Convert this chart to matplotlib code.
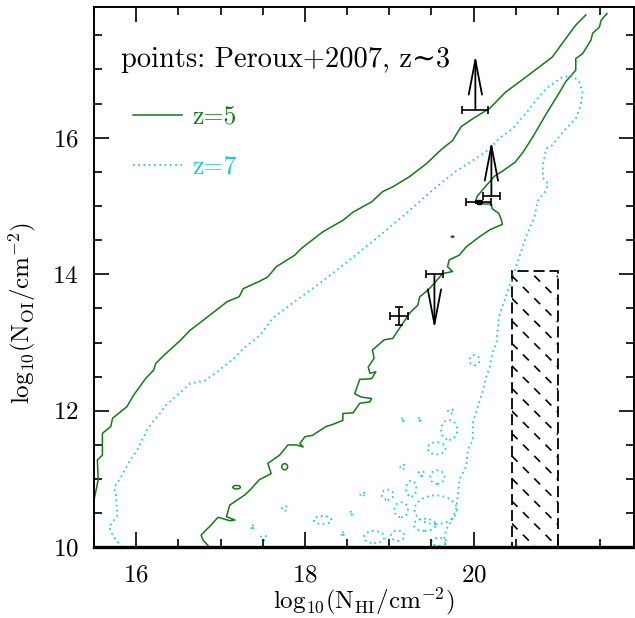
import matplotlib
matplotlib.use("Agg")
import matplotlib.pyplot as plt
from matplotlib.patches import Rectangle, Ellipse
import numpy as np

plt.rcParams['font.family'] = ['cmr10', 'DejaVu Serif']
plt.rcParams['mathtext.fontset'] = 'cm'
plt.rcParams['axes.formatter.use_mathtext'] = True
plt.rcParams['axes.unicode_minus'] = False
plt.rcParams['lines.scale_dashes'] = False

GREEN = '#137a13'
CYAN = '#14ccd8'

# z=5 contour, outer (upper-left) edge
z5_upper_x = [15.50, 15.55, 15.54, 15.60, 15.60, 15.70, 15.72, 15.89, 15.97, 16.03, 16.11,
              16.21, 16.23, 16.31, 16.53, 16.64, 16.82, 17.08, 17.22, 17.27, 17.45, 17.56,
              17.66, 17.88, 17.96, 18.21, 18.45, 18.57, 18.79, 18.92, 19.04, 19.24, 19.44,
              19.61, 19.75, 19.85, 19.99, 20.19, 20.38, 20.62, 20.93, 21.09, 21.21, 21.33]
z5_upper_y = [10.69, 10.99, 11.28, 11.35, 11.67, 11.77, 11.89, 12.06, 12.23, 12.33, 12.47,
              12.60, 12.69, 12.79, 13.04, 13.18, 13.35, 13.60, 13.67, 13.79, 13.89, 13.96,
              14.11, 14.28, 14.38, 14.62, 14.79, 14.91, 15.06, 15.21, 15.28, 15.43, 15.62,
              15.82, 15.96, 16.16, 16.28, 16.43, 16.67, 16.89, 17.18, 17.45, 17.65, 17.80]

# z=5 contour, lower-right edge
z5_lower_x = [21.58, 21.51, 21.49, 21.41, 21.39, 21.29, 21.21, 21.21, 21.09, 21.01, 20.96,
              20.90, 20.86, 20.78, 20.69, 20.58, 20.49, 20.34, 20.25, 20.15, 20.04, 20.02,
              20.03, 20.13, 20.21, 20.22, 20.30, 20.33, 20.34, 20.28, 20.19, 20.07, 19.91,
              19.83, 19.71, 19.69, 19.75, 19.63, 19.55, 19.46, 19.36, 19.34, 19.24, 19.16,
              19.04, 18.94, 18.80, 18.82, 18.75, 18.77, 18.84, 18.79, 18.65, 18.59, 18.67,
              18.79, 18.77, 18.65, 18.57, 18.45, 18.45, 18.33, 18.25, 18.09, 18.00, 17.94,
              17.98, 17.90, 17.80, 17.70, 17.56, 17.60, 17.46, 17.35, 17.29, 17.11, 17.07,
              17.17, 17.11, 16.97, 16.89, 16.77, 16.79, 16.87]
z5_lower_y = [17.82, 17.72, 17.62, 17.53, 17.43, 17.23, 17.16, 16.99, 16.82, 16.65, 16.55,
              16.43, 16.35, 16.18, 15.99, 15.78, 15.64, 15.51, 15.44, 15.30, 15.14, 15.06,
              15.04, 15.03, 15.03, 14.96, 14.89, 14.79, 14.73, 14.70, 14.65, 14.55, 14.40,
              14.28, 14.21, 14.11, 14.04, 14.01, 13.89, 13.77, 13.67, 13.55, 13.43, 13.28,
              13.06, 13.04, 12.89, 12.77, 12.64, 12.55, 12.57, 12.47, 12.46, 12.25, 12.20,
              12.18, 12.13, 12.11, 11.97, 11.96, 11.86, 11.80, 11.77, 11.64, 11.62, 11.52,
              11.47, 11.50, 11.50, 11.35, 11.23, 11.08, 10.99, 10.84, 10.77, 10.62, 10.45,
              10.40, 10.39, 10.44, 10.33, 10.18, 10.11, 10.00]

# small z=5 islands: centre x, centre y, width, height
z5_isl_x = [17.76, 17.19, 19.75]
z5_isl_y = [11.18, 10.88, 14.55]
z5_isl_w = [0.07, 0.09, 0.03]
z5_isl_h = [0.09, 0.05, 0.02]

# z=7 contour, main boundary
z7_x = [15.83, 15.72, 15.68, 15.78, 15.76, 15.74, 15.82, 15.93, 16.01, 16.13, 16.21, 16.28,
        16.35, 16.46, 16.64, 16.81, 16.96, 17.16, 17.27, 17.47, 17.62, 17.90, 18.21, 18.57,
        18.88, 19.20, 19.51, 19.79, 20.03, 20.19, 20.30, 20.46, 20.62, 20.74, 20.86, 21.05,
        21.17, 21.25, 21.29, 21.27, 21.21, 21.13, 21.03, 20.93, 20.86, 20.82, 20.82, 20.88,
        20.86, 20.76, 20.72, 20.62, 20.54, 20.46, 20.38, 20.30, 20.27, 20.22, 20.19, 20.15,
        20.11, 20.05, 19.99, 19.99, 19.93, 19.91, 19.83, 19.81, 19.79, 19.73, 19.67, 19.65,
        19.68]
z7_y = [10.00, 10.18, 10.30, 10.47, 10.77, 10.88, 11.03, 11.28, 11.42, 11.72, 11.86, 11.96,
        12.08, 12.20, 12.40, 12.44, 12.57, 12.77, 12.91, 13.11, 13.36, 13.62, 13.90, 14.25,
        14.56, 14.89, 15.23, 15.51, 15.70, 15.84, 15.99, 16.13, 16.36, 16.55, 16.72, 16.89,
        16.91, 16.82, 16.67, 16.48, 16.28, 16.18, 16.04, 15.89, 15.84, 15.60, 15.41, 15.33,
        15.23, 15.08, 14.84, 14.55, 14.25, 13.96, 13.67, 13.38, 12.99, 12.84, 12.64, 12.50,
        12.30, 12.06, 11.82, 11.57, 11.42, 11.18, 10.99, 10.74, 10.55, 10.37, 10.25, 10.11,
        10.00]

# small z=7 loops near the bottom: centre x, centre y, width, height
z7_loop_x = [20.01, 19.16, 19.36, 19.73, 19.71, 19.56, 19.16, 19.38, 19.57, 19.26, 18.69,
             18.98, 18.55, 19.14, 18.21, 17.76, 17.38, 17.51, 18.45, 18.82, 19.10, 19.42,
             19.59, 19.55]
z7_loop_y = [12.74, 11.87, 11.87, 11.99, 11.72, 11.45, 11.18, 11.08, 11.03, 10.86, 10.78,
             10.77, 10.50, 10.55, 10.40, 10.57, 10.30, 10.14, 10.20, 10.15, 10.17, 10.33,
             10.08, 10.55]
z7_loop_w = [0.12, 0.05, 0.05, 0.07, 0.19, 0.21, 0.06, 0.07, 0.17, 0.12, 0.07, 0.14,
             0.05, 0.16, 0.21, 0.06, 0.06, 0.07, 0.06, 0.24, 0.16, 0.26, 0.18, 0.50]
z7_loop_h = [0.15, 0.04, 0.04, 0.06, 0.29, 0.18, 0.06, 0.07, 0.20, 0.23, 0.04, 0.15,
             0.04, 0.22, 0.12, 0.07, 0.04, 0.07, 0.04, 0.18, 0.15, 0.18, 0.12, 0.42]

# Peroux+2007 points
pt_x = [20.02, 20.21, 20.06, 19.535, 19.12]
pt_y = [16.41, 15.15, 15.06, 14.00, 13.39]
pt_xerr = [0.154, 0.105, 0.148, 0.098, 0.107]
pt_yerr = [0.0, 0.0, 0.02, 0.0, 0.13]
pt_limit = [1, 1, 0, -1, 0]   # +1 lower limit, -1 upper limit
arrow_len = 0.8

# region shaded with dashed hatching
box_x = [20.45, 21.0]
box_y = [10.0, 14.05]

fig = plt.figure(figsize=(6.35, 6.18), dpi=100)
ax = fig.add_axes([0.148, 0.1144, 0.8504, 0.8748])
ax.set_xlim(15.5, 21.9)
ax.set_ylim(10.0, 17.92)

dotted = (0, (1.2, 2.6))
l5, = ax.plot(z5_upper_x, z5_upper_y, color=GREEN, lw=1.1, label='z=5')
ax.plot(z5_lower_x, z5_lower_y, color=GREEN, lw=1.1)
for x, y, w, h in zip(z5_isl_x, z5_isl_y, z5_isl_w, z5_isl_h):
    ax.add_patch(Ellipse((x, y), w, h, fill=False, ec=GREEN, lw=1.1))

l7, = ax.plot(z7_x, z7_y, color=CYAN, lw=1.3, ls=dotted, label='z=7')
for x, y, w, h in zip(z7_loop_x, z7_loop_y, z7_loop_w, z7_loop_h):
    ax.add_patch(Ellipse((x, y), w, h, fill=False, ec=CYAN, lw=1.3, ls=dotted))

# hatched box
box = Rectangle((box_x[0], box_y[0]), box_x[1] - box_x[0], box_y[1] - box_y[0],
                fill=False, ec='k', lw=1.3, ls=(0, (8, 3.5)))
ax.add_patch(box)
slope = -1.237   # 45 degrees on screen
step = 0.33
bvals = np.arange(box_y[0] + 0.02, box_y[1] - slope * (box_x[1] - box_x[0]) + step, step)
hx = np.array(box_x)
for b in bvals:
    ln, = ax.plot(hx, b + slope * (hx - box_x[0]), color='k', lw=1.2, ls=(0, (6, 5.5)))
    ln.set_clip_path(box)

# data points
for x, y, xe, ye, lim in zip(pt_x, pt_y, pt_xerr, pt_yerr, pt_limit):
    ax.errorbar(x, y, xerr=xe, yerr=ye if ye > 0 else None, fmt='none', ecolor='k',
                elinewidth=1.2, capsize=3, capthick=1.2)
    if lim != 0:
        ax.annotate('', xy=(x, y + lim * arrow_len), xytext=(x, y),
                    arrowprops=dict(arrowstyle='->,head_length=1.25,head_width=0.24',
                                    lw=1.3, color='k', shrinkA=0, shrinkB=0,
                                    mutation_scale=20))
ax.plot(pt_x[2], pt_y[2], 's', color='k', ms=3)

ax.text(0.05, 0.888, 'points: Peroux+2007, z\u223c3', transform=ax.transAxes,
        fontsize=20.5, va='baseline', ha='left')

leg = ax.legend(handles=[l5, l7], loc='upper left', bbox_to_anchor=(0.03, 0.86),
                frameon=False, fontsize=18.5, handlelength=1.9, handletextpad=0.4,
                labelspacing=1.0, labelcolor='linecolor')
leg.get_lines()[1].set_linestyle(dotted)

ax.set_xticks([16, 18, 20])
ax.set_yticks([10, 12, 14, 16])
ax.set_xticks(np.arange(15.5, 21.9, 0.5), minor=True)
ax.set_yticks(np.arange(10.0, 17.92, 0.5), minor=True)
ax.tick_params(which='both', direction='in', top=True, right=True, labelsize=18)
ax.tick_params(which='major', length=11, width=1.2)
ax.tick_params(which='minor', length=5.5, width=1.2)
ax.tick_params(axis='x', pad=12)
ax.tick_params(axis='y', pad=11)
for side in ['left', 'top', 'right']:
    ax.spines[side].set_linewidth(1.4)
ax.spines['bottom'].set_linewidth(2.4)

ax.set_xlabel(r'$\mathrm{log}_{10}(\mathrm{N_{HI}/cm^{-2}})$', fontsize=18)
ax.set_ylabel(r'$\mathrm{log}_{10}(\mathrm{N_{OI}/cm^{-2}})$', fontsize=18)
ax.xaxis.set_label_coords(0.5, -0.07)
ax.yaxis.set_label_coords(-0.104, 0.434)

fig.savefig('out.png', dpi=100)
